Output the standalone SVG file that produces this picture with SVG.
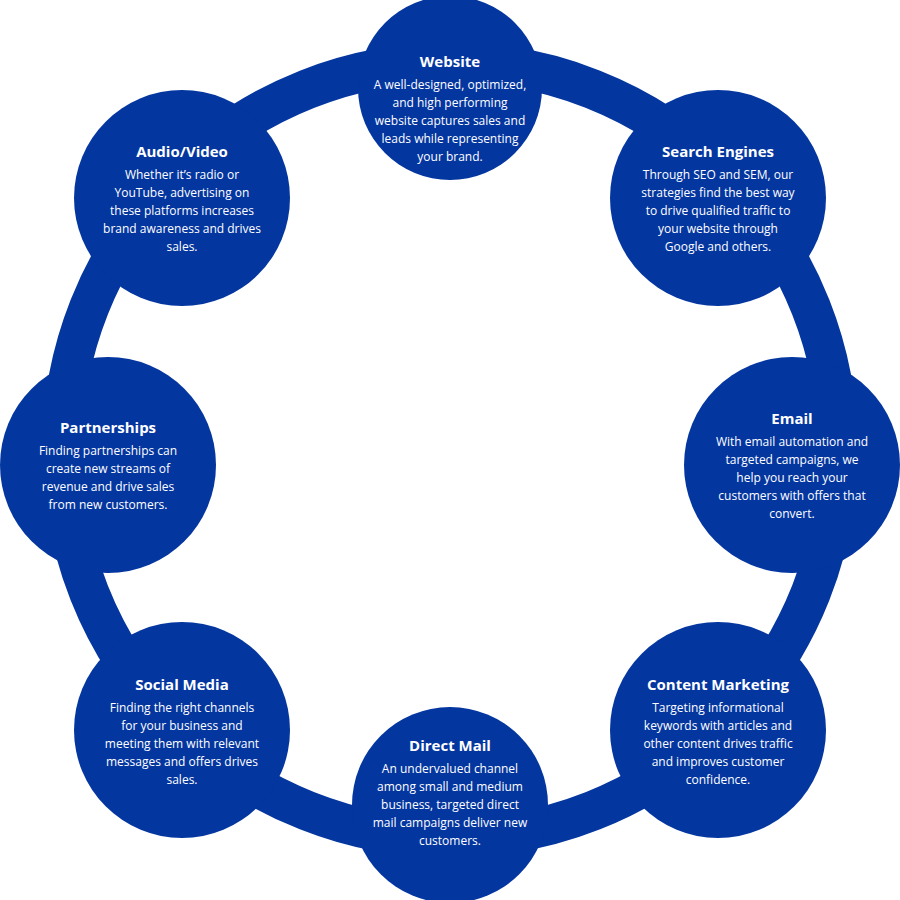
<svg xmlns="http://www.w3.org/2000/svg" width="900" height="900" viewBox="0 0 900 900">
<style>
.n{fill:#0436a0}
.t{fill:#fff;font-family:"Open Sans",sans-serif;font-size:15px;font-weight:bold;text-anchor:middle}
.d{fill:#fff;font-family:"Open Sans",sans-serif;font-size:12px;text-anchor:middle}
</style>
<rect width="900" height="900" fill="#fff"/>
<g id="connectors"><circle cx="450" cy="450" r="388" fill="none" stroke="#0436a0" stroke-width="40"/></g>
<g id="website"><circle class="n" cx="450" cy="88" r="92"/><text class="t" x="450" y="67">Website</text><text class="d" x="450" y="89">A well-designed, optimized,</text><text class="d" x="450" y="107">and high performing</text><text class="d" x="450" y="125">website captures sales and</text><text class="d" x="450" y="143">leads while representing</text><text class="d" x="450" y="161">your brand.</text></g>
<g id="search"><circle class="n" cx="718" cy="198" r="108"/><text class="t" x="718" y="157">Search Engines</text><text class="d" x="718" y="179">Through SEO and SEM, our</text><text class="d" x="718" y="197">strategies find the best way</text><text class="d" x="718" y="215">to drive qualified traffic to</text><text class="d" x="718" y="233">your website through</text><text class="d" x="718" y="251">Google and others.</text></g>
<g id="email"><circle class="n" cx="792" cy="465" r="108"/><text class="t" x="792" y="424">Email</text><text class="d" x="792" y="446">With email automation and</text><text class="d" x="792" y="464">targeted campaigns, we</text><text class="d" x="792" y="482">help you reach your</text><text class="d" x="792" y="500">customers with offers that</text><text class="d" x="792" y="518">convert.</text></g>
<g id="content"><circle class="n" cx="718" cy="730" r="108"/><text class="t" x="718" y="690">Content Marketing</text><text class="d" x="718" y="712">Targeting informational</text><text class="d" x="718" y="730">keywords with articles and</text><text class="d" x="718" y="748">other content drives traffic</text><text class="d" x="718" y="766">and improves customer</text><text class="d" x="718" y="784">confidence.</text></g>
<g id="directmail"><circle class="n" cx="450" cy="805" r="98"/><text class="t" x="450" y="751">Direct Mail</text><text class="d" x="450" y="773">An undervalued channel</text><text class="d" x="450" y="791">among small and medium</text><text class="d" x="450" y="809">business, targeted direct</text><text class="d" x="450" y="827">mail campaigns deliver new</text><text class="d" x="450" y="845">customers.</text></g>
<g id="social"><circle class="n" cx="182" cy="730" r="108"/><text class="t" x="182" y="690">Social Media</text><text class="d" x="182" y="712">Finding the right channels</text><text class="d" x="182" y="730">for your business and</text><text class="d" x="182" y="748">meeting them with relevant</text><text class="d" x="182" y="766">messages and offers drives</text><text class="d" x="182" y="784">sales.</text></g>
<g id="partnerships"><circle class="n" cx="108" cy="465" r="108"/><text class="t" x="108" y="433">Partnerships</text><text class="d" x="108" y="455">Finding partnerships can</text><text class="d" x="108" y="473">create new streams of</text><text class="d" x="108" y="491">revenue and drive sales</text><text class="d" x="108" y="509">from new customers.</text></g>
<g id="audiovideo"><circle class="n" cx="182" cy="198" r="108"/><text class="t" x="182" y="157">Audio/Video</text><text class="d" x="182" y="179">Whether it’s radio or</text><text class="d" x="182" y="197">YouTube, advertising on</text><text class="d" x="182" y="215">these platforms increases</text><text class="d" x="182" y="233">brand awareness and drives</text><text class="d" x="182" y="251">sales.</text></g>
</svg>
